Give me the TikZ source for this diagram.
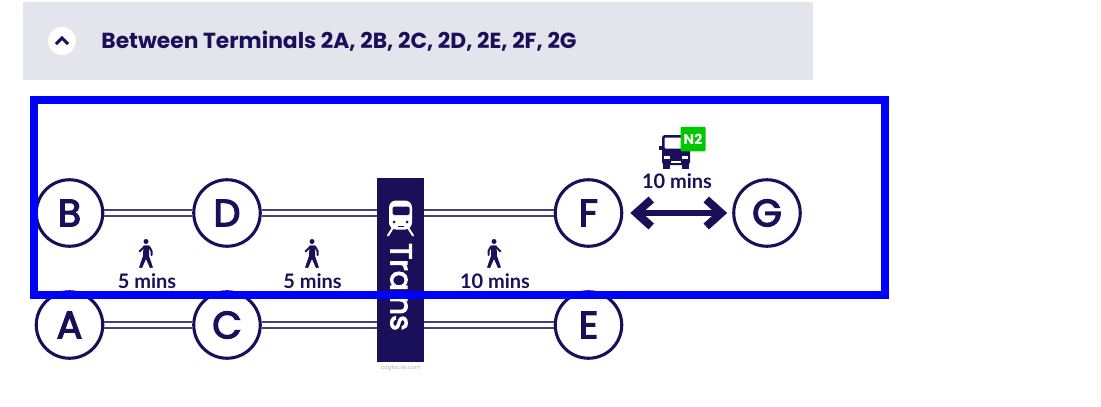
\documentclass[tikz,border=0pt]{standalone}
\usepackage{fontspec}
\setmainfont{Poppins}
\newfontfamily\labelfont{Lato}
\newfontfamily\stopfont[FakeBold=3.5]{Poppins}
\usetikzlibrary{arrows.meta, positioning, calc}
\definecolor{navy}{HTML}{1A1059}
\definecolor{panelgrey}{HTML}{E3E4EC}
\definecolor{framblue}{HTML}{0000FF}
\definecolor{busgreen}{HTML}{00C800}
\tikzset{
    walker/.pic={
        \fill[navy] (0,-12.5) circle (2.5);
        \draw[navy, line width=2, line cap=round, line join=round] (-6.5,-2.5) -- (-1.5,-7.5) -- (3,-7.5) -- (5.5,-3) -- (5.5,1);
        \fill[navy] (-2.5,-8.5) -- (3,-8.5) -- (3,2) -- (7,13.5) -- (4,14) -- (0,5) -- (-4,14) -- (-7,13.5) -- (-3,2) -- cycle;
    },
    busicon/.pic={
        \fill[navy, rounded corners=3pt] (-14,-16.5) rectangle (14,13.5);
        \fill[white, rounded corners=1pt] (-11.5,-14) rectangle (14,-3);
        \fill[navy] (-17.5,-6) rectangle (-14,-2);
        \fill[navy] (-13,12) rectangle (-6,17);
        \fill[navy] (6,12) rectangle (13,17);
        \fill[white] (-12,4) rectangle (-6,7);
        \fill[white] (6,4) rectangle (12,7);
        \fill[white] (-5,9.5) rectangle (5,11);
    },
    trainicon/.pic={
        \fill[white, rounded corners=7pt] (-11.5,-18) rectangle (11.5,11);
        \fill[navy, rounded corners=1.5pt] (-8,-12) rectangle (9,-3.5);
        \fill[navy] (-6.5,3.5) circle (1.5);
        \fill[navy] (6.5,3.5) circle (1.5);
        \fill[navy] (-3,7) rectangle (3,8.5);
        \draw[white, line width=2pt, line cap=round] (-8,10) -- (-12.5,17);
        \draw[white, line width=2pt, line cap=round] (8,10) -- (12.5,17);
    }
}
\begin{document}
\begin{tikzpicture}[x=1pt, y=-1pt,
        stop/.style={draw=navy, circle, line width=3.1pt, minimum size=66.5pt, inner sep=0pt, text=navy, font=\stopfont\fontsize{38}{38}\selectfont},
        rail/.style={navy!80, line width=1.5pt},
        mins/.style={text=navy, font=\labelfont\fontsize{20}{20}\bfseries\selectfont, inner sep=0pt}
    ]
    \useasboundingbox (0,0) rectangle (1101,407);
    \node[fill=panelgrey, minimum width=790pt, minimum height=78pt, inner sep=0pt] (panel) at (418,41) {};
    \node[fill=white, circle, minimum size=28pt, inner sep=0pt] (toggle) at (62,41) {};
    \node[right=25pt of toggle, text=navy, font=\fontsize{21.8}{22}\bfseries\selectfont, inner sep=0pt] (title) {Between Terminals 2A, 2B, 2C, 2D, 2E, 2F, 2G};
    \draw[navy, line width=3pt] ($(toggle)+(-6,3)$) -- ($(toggle)+(0,-3)$) -- ($(toggle)+(6,3)$);
    % stops
    \node[stop] (B) at (69.5,213) {\raisebox{-1pt}{B}};
    \node[stop] (D) at (227,213) {\raisebox{-1pt}{D}};
    \node[stop] (F) at (588.5,213) {\raisebox{-1pt}{F}};
    \node[stop] (G) at (767,213) {\raisebox{-1pt}{G}};
    \node[stop] (A) at (69.5,325) {\raisebox{-1pt}{A}};
    \node[stop] (C) at (227,325) {\raisebox{-1pt}{C}};
    \node[stop] (E) at (588.5,325) {\raisebox{-1pt}{E}};
    \node[fill=navy, minimum width=47pt, minimum height=184pt, inner sep=0pt] (trains) at (400.5,269.5) {};
    \node[rotate=-90, text=white, font=\stopfont\fontsize{30}{30}\selectfont, inner sep=0pt] (trainstext) at (401,287) {Tra\hspace{5pt}ns};
    \node[text=black!30, font=\fontsize{5.5}{6}\selectfont, below=3pt of trains, inner sep=0pt] (credit) {cdgfacile.com};
    \pic at (400.5,218.5) {trainicon};
    % rails
    \foreach \a/\b in {B/D, A/C} {
        \draw[rail] ($(\a.east)+(0,-3)$) -- ($(\b.west)+(0,-3)$);
        \draw[rail] ($(\a.east)+(0,3)$) -- ($(\b.west)+(0,3)$);
    }
    \foreach \a in {D, C} {
        \draw[rail] ($(\a.east)+(0,-3)$) -- ($(\a.east -| trains.west)+(0,-3)$);
        \draw[rail] ($(\a.east)+(0,3)$) -- ($(\a.east -| trains.west)+(0,3)$);
    }
    \foreach \a in {F, E} {
        \draw[rail] ($(\a.west)+(0,-3)$) -- ($(\a.west -| trains.east)+(0,-3)$);
        \draw[rail] ($(\a.west)+(0,3)$) -- ($(\a.west -| trains.east)+(0,3)$);
    }
    \draw[navy, line width=6pt, {Straight Barb[length=15pt, width=27pt, line width=8pt]}-{Straight Barb[length=15pt, width=27pt, line width=8pt]}, shorten <=7pt, shorten >=5pt] (F) -- (G);
    % times
    \node[mins] (walkbd) at (147,281) {5 mins};
    \node[mins] (walkdt) at (312.5,281) {5 mins};
    \node[mins] (walktf) at (495,281) {10 mins};
    \node[mins] (busfg) at (677,181) {10 mins};
    \pic at (146,254) {walker};
    \pic at (312,254) {walker};
    \pic[xscale=-1] at (494,254) {walker};
    \pic at (676,151.5) {busicon};
    \node[fill=busgreen, rounded corners=1pt, minimum width=25pt, minimum height=24.5pt, inner sep=0pt, text=white, font=\fontsize{14}{14}\bfseries\selectfont] (n2) at (693,139) {N2};
    % frame
    \draw[framblue, line width=8pt] (34,100) rectangle (885,294.5);
\end{tikzpicture}
\end{document}
